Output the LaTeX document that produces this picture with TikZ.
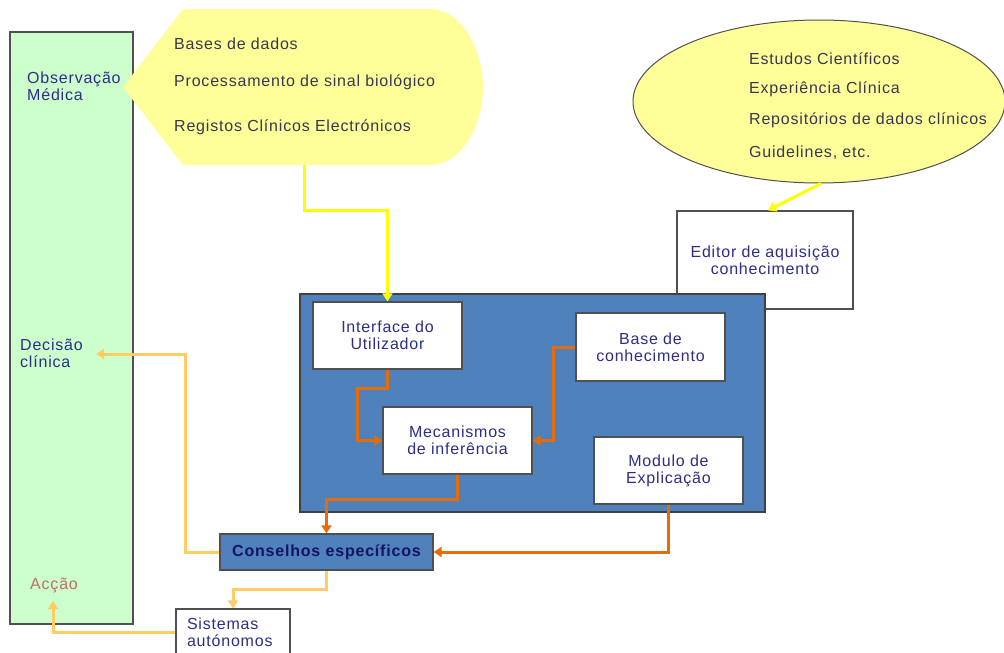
\documentclass[tikz,border=0pt]{standalone}
\usepackage{fontspec}
\setmainfont{Liberation Sans}[LetterSpace=5]
\usetikzlibrary{arrows.meta,shapes.geometric}

\definecolor{mint}{RGB}{204,255,204}
\definecolor{paleyellow}{RGB}{255,255,153}
\definecolor{steel}{RGB}{79,129,189}
\definecolor{frame}{RGB}{80,80,80}
\definecolor{navytext}{RGB}{46,46,135}
\definecolor{greytext}{RGB}{55,55,80}
\definecolor{darknavy}{RGB}{20,20,90}
\definecolor{rust}{RGB}{228,108,10}
\definecolor{apricot}{RGB}{255,204,102}
\definecolor{brightyellow}{RGB}{255,255,0}
\definecolor{rosy}{RGB}{192,110,100}

\tikzset{
  txt/.style={inner sep=0pt, font=\fontsize{16}{17}\selectfont},
  box/.style={draw=frame, line width=1.2pt, fill=white, inner sep=0pt,
    align=center, text=navytext, font=\fontsize{16}{17}\selectfont},
  srctext/.style={txt, anchor=west, text=greytext},
  sidetext/.style={txt, anchor=west, align=left, text=navytext},
  arr/.style={line width=3pt, -{Triangle[length=8pt,width=10pt]}},
  feedline/.style={arr, draw=brightyellow},
  flowline/.style={arr, draw=rust},
  adviceline/.style={arr, draw=apricot},
}

\begin{document}
\begin{tikzpicture}[x=1pt,y=-1pt]
\useasboundingbox (0,0) rectangle (1004,653);

% clinical practice column
\node[draw=frame, line width=1.2pt, fill=mint, minimum width=123pt,
      minimum height=592pt, inner sep=0pt] (practice) at (71.5,328) {};
\node[sidetext] (obs) at (27,86.5) {Observação\\Médica};
\node[sidetext] (dec) at (20,353.5) {Decisão\\clínica};
\node[txt, anchor=west, text=rosy] (acc) at (30,585) {Acção};
\coordinate (dec-in) at (96,354);
\coordinate (acc-in) at (53,601);

% patient data sources
\path[fill=paleyellow] (183,9) -- (430,9)
  .. controls (462,9) and (483,50) .. (483,87)
  .. controls (483,124) and (462,165) .. (430,165)
  -- (183,165) -- (123,87) -- cycle;
\coordinate (data-out) at (304,165);
\node[srctext] (d1) at (174,44) {Bases de dados};
\node[srctext] (d2) at (174,82) {Processamento de sinal biológico};
\node[srctext] (d3) at (174,127) {Registos Clínicos Electrónicos};

% knowledge sources
\node[ellipse, draw=frame, line width=1pt, fill=paleyellow,
      minimum width=372pt, minimum height=163pt, inner sep=0pt] (know) at (819,101.5) {};
\node[srctext] (k1) at (749,59) {Estudos Científicos};
\node[srctext] (k2) at (749,89) {Experiência Clínica};
\node[srctext] (k3) at (749,120) {Repositórios de dados clínicos};
\node[srctext] (k4) at (749,153) {Guidelines, etc.};

% knowledge acquisition editor
\node[box, minimum width=176pt, minimum height=98pt] (editor) at (765,260)
  {Editor de aquisição\\conhecimento};

% decision support system
\node[draw=frame!80!black, line width=1.2pt, fill=steel, minimum width=465pt,
      minimum height=218pt, inner sep=0pt] (dss) at (532.5,403) {};
\node[box, minimum width=149pt, minimum height=67pt] (iface) at (387.5,335.5)
  {Interface do\\Utilizador};
\node[box, minimum width=149pt, minimum height=68pt] (kb) at (650.5,347)
  {Base de\\conhecimento};
\node[box, minimum width=149pt, minimum height=67pt] (engine) at (457.5,440.5)
  {Mecanismos\\de inferência};
\node[box, minimum width=149pt, minimum height=67pt] (expl) at (668.5,470.5)
  {Modulo de\\Explicação};

% outputs
\node[draw=frame, line width=1.2pt, fill=steel, minimum width=213pt,
      minimum height=36pt, inner sep=0pt, text=darknavy,
      font=\fontsize{16}{17}\selectfont\bfseries] (advice) at (326.5,552)
  {Conselhos específicos};
\node[box, minimum width=114pt, minimum height=46pt, text width=92pt,
      align=left] (auto) at (233,632)
  {Sistemas\\autónomos};

% connectors
\draw[feedline] (data-out) -- ++(0,45) -| (iface.north);
\draw[feedline] ([xshift=2pt]know.south) -- ([xshift=3pt]editor.north);
\draw[flowline] (iface.south) -- ++(0,19) -- ++(-30,0) |- (engine.west);
\draw[flowline] (kb.west) -- ++(-22,0) |- (engine.east);
\draw[flowline] (engine.south) -- ++(0,25) -| (advice.north);
\draw[flowline] (expl.south) |- (advice.east);
\draw[adviceline] (advice.west) -- ++(-34,0) |- (dec-in);
\draw[adviceline] (advice.south) -- ++(0,19) -| (auto.north);
\draw[adviceline] (auto.west) -| (acc-in);
\end{tikzpicture}
\end{document}
